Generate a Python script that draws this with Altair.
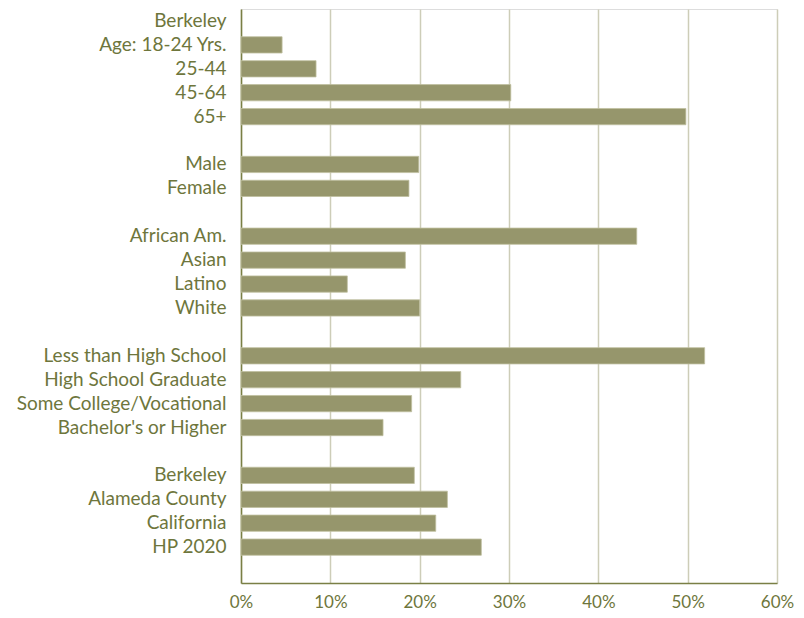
import altair as alt
import pandas as pd

labels = ["Berkeley", "Age: 18-24 Yrs.", "25-44", "45-64", "65+", " ",
          "Male", "Female", "  ",
          "African Am.", "Asian", "Latino", "White", "   ",
          "Less than High School", "High School Graduate", "Some College/Vocational", "Bachelor's or Higher", "    ",
          "Berkeley ", "Alameda County", "California", "HP 2020", "     "]
values = [None, 0.046, 0.084, 0.302, 0.498, None,
          0.199, 0.188, None,
          0.443, 0.184, 0.119, 0.200, None,
          0.519, 0.246, 0.191, 0.159, None,
          0.194, 0.231, 0.218, 0.269, None]
ticks = [0, 0.1, 0.2, 0.3, 0.4, 0.5, 0.6]

df = pd.DataFrame({"label": labels, "value": values})

TEXT = "#6e763c"
FONT = "Lato"

chart = alt.Chart(df).mark_bar(color="#96966c", stroke="#bfbf9f", strokeWidth=0.8).encode(
    x=alt.X("value:Q", scale=alt.Scale(domain=[0, 0.6], nice=False),
            axis=alt.Axis(values=ticks, format=".0%", title=None, grid=True,
                          gridColor="#cdcdb8", gridWidth=1.5, domainColor="#7a7f45",
                          domainWidth=1.5, ticks=False, labelPadding=11, labelFontSize=17,
                          labelColor=TEXT, labelFont=FONT, labelFlush=False)),
    y=alt.Y("label:N", sort=labels,
            scale=alt.Scale(paddingInner=0.32, paddingOuter=0.16),
            axis=alt.Axis(title=None, ticks=False, domainColor="#7a7f45", domainWidth=1.5,
                          labelPadding=15, labelFontSize=19, labelColor=TEXT, labelFont=FONT,
                          labelLimit=400)),
).properties(
    width=536, height=574,
    autosize=alt.AutoSizeParams(type="none"),
    padding={"left": 233, "top": 1, "right": 18, "bottom": 27},
).configure_view(stroke=None).configure(background="white")

chart.save("out.html", embed_options={"renderer": "svg", "actions": False})
